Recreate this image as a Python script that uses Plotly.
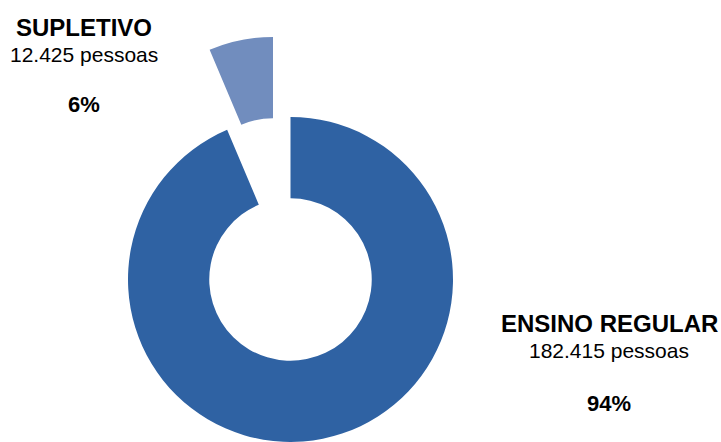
import plotly.graph_objects as go

# Enrolment split by type of schooling
categories = ["ENSINO REGULAR", "SUPLETIVO"]
people = [182415, 12425]
people_labels = ["182.415 pessoas", "12.425 pessoas"]
percent_labels = ["94%", "6%"]

W, H = 721, 442
R = 162.5              # outer radius in px
CX, CY = 290.5, 279.5  # donut centre in px (from top-left)
OFFSET = (-17.5, -80)  # displacement of the detached SUPLETIVO slice


def domain_for(cx, cy):
    x0 = (cx - R) / W
    x1 = (cx + R) / W
    y0 = (H - (cy + R)) / H
    y1 = (H - (cy - R)) / H
    return dict(x=[max(0, x0), min(1, x1)], y=[max(0, y0), min(1, y1)])


common = dict(
    labels=categories,
    values=people,
    hole=0.5,
    sort=False,
    direction="clockwise",
    rotation=0,
    textinfo="none",
    showlegend=False,
    hoverinfo="label+value+percent",
)

fig = go.Figure()
# main ring: ENSINO REGULAR
fig.add_trace(go.Pie(
    **common,
    domain=domain_for(CX, CY),
    marker=dict(colors=["#2f62a3", "rgba(0,0,0,0)"], line=dict(width=0)),
))
# detached slice: SUPLETIVO
fig.add_trace(go.Pie(
    **common,
    domain=domain_for(CX + OFFSET[0], CY + OFFSET[1]),
    marker=dict(colors=["rgba(0,0,0,0)", "#718dbe"], line=dict(width=0)),
))

font_family = "Liberation Sans, Arial, sans-serif"


def add_block(cx, ys, idx):
    texts = [
        (f"<b>{categories[idx]}</b>", 24),
        (people_labels[idx], 21),
        (f"<b>{percent_labels[idx]}</b>", 22),
    ]
    for (txt, size), y in zip(texts, ys):
        fig.add_annotation(
            x=cx / W, y=1 - y / H, xref="paper", yref="paper",
            text=txt, showarrow=False, xanchor="center", yanchor="middle",
            font=dict(family=font_family, size=size, color="#000000"),
        )


add_block(84, [27, 54, 104], 1)
add_block(609, [323, 350, 403], 0)

fig.update_layout(
    width=W, height=H,
    margin=dict(l=0, r=0, t=0, b=0),
    paper_bgcolor="white",
    plot_bgcolor="white",
)

fig.write_html("out.html")
